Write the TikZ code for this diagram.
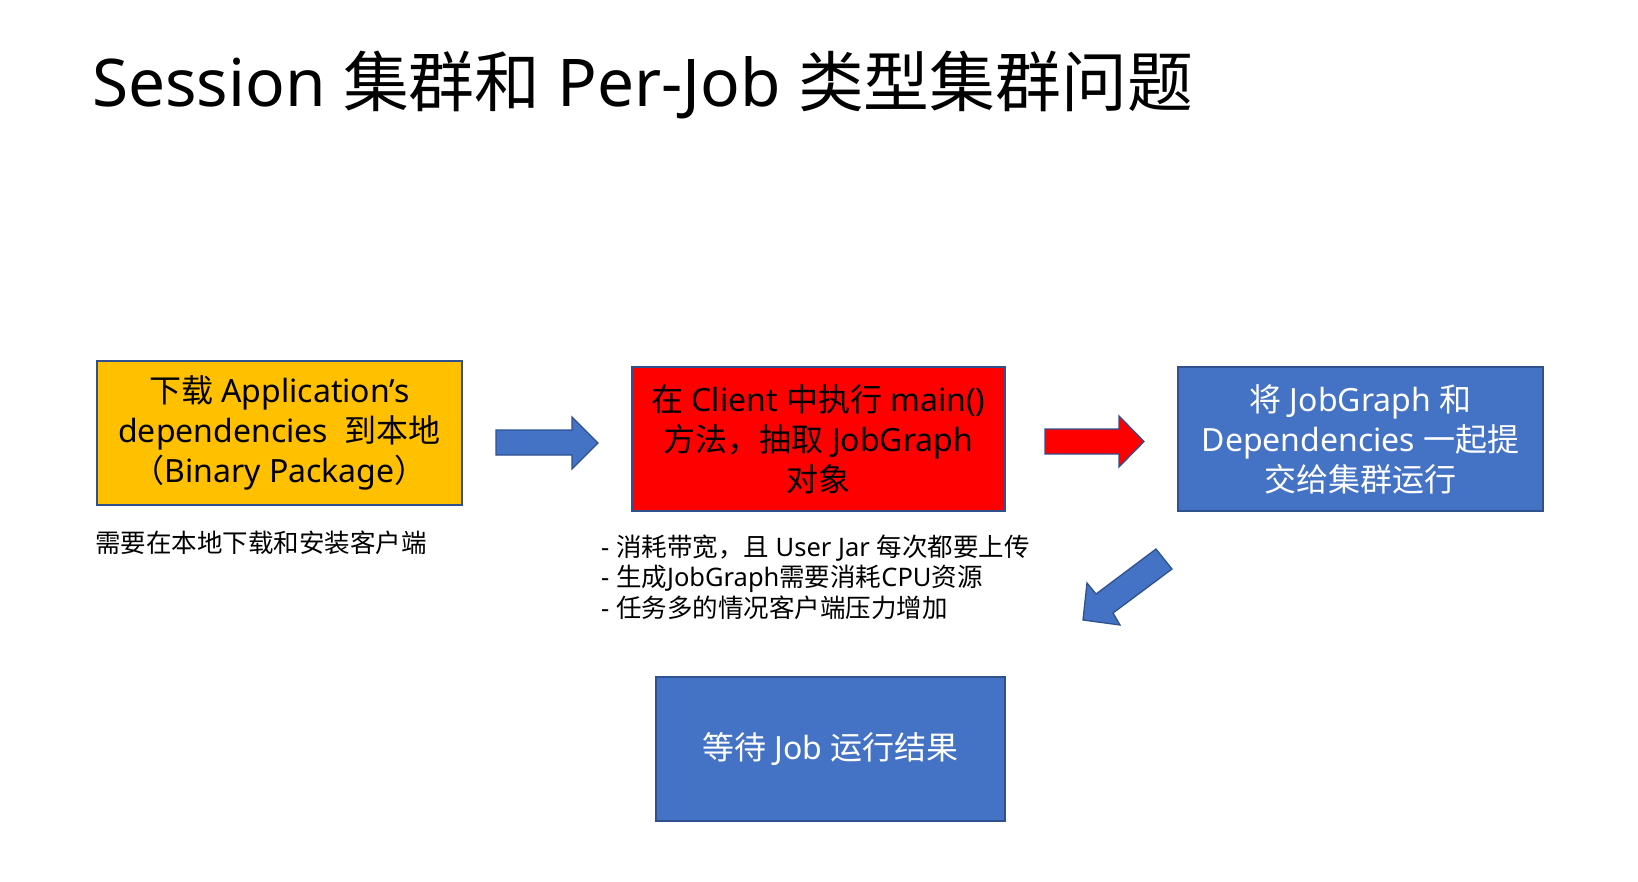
\documentclass[tikz,border=0pt]{standalone}
\usepackage{fontspec}
\setmainfont{Noto Sans}
\newfontfamily\cjk{Noto Sans CJK SC}
\newcommand\zh[1]{{\cjk #1}}
\definecolor{pptblue}{HTML}{4472C4}
\definecolor{pptline}{HTML}{2F528F}
\definecolor{pptgold}{HTML}{FFC000}
\definecolor{pptred}{HTML}{FF0000}
\begin{document}
\begin{tikzpicture}[x=1pt,y=-1pt,
  stepbox/.style={draw=pptline,line width=1.3pt,inner sep=0pt,align=center,
    font=\fontsize{32}{40}\selectfont},
  blockarrow/.style={draw=pptline,line width=1.3pt,line join=miter},
  note/.style={anchor=west,inner sep=0pt,align=left,font=\fontsize{25.5}{30.5}\selectfont}]
\useasboundingbox[fill=white] (0,0) rectangle (1638,882);

% title
\node[anchor=base west,inner sep=0pt,font=\fontsize{65.8}{72}\selectfont] (title) at (92,107)
  {Session \zh{集群和} Per-Job \zh{类型集群问题}};

% process boxes
\node[stepbox,fill=pptgold,minimum width=365pt,minimum height=144pt] (dl) at (279.5,433)
  {\zh{下载} Application’s\\dependencies~ \zh{到本地}\\\zh{（}Binary Package\zh{）}};
\node[stepbox,fill=pptred,minimum width=373pt,minimum height=144pt] (client) at (818.5,439)
  {\zh{在} Client \zh{中执行} main()\\\zh{方法，抽取} JobGraph\\\zh{对象}};
\node[stepbox,fill=pptblue,text=white,minimum width=365pt,minimum height=144pt] (submit) at (1360.5,439)
  {\zh{将} JobGraph \zh{和}\\Dependencies \zh{一起提}\\\zh{交给集群运行}};
\node[stepbox,fill=pptblue,text=white,minimum width=349pt,minimum height=144pt] (wait) at (830.5,749)
  {\zh{等待} Job \zh{运行结果}};

% notes under the boxes
\node[note] (dlnote) at (95,543) {\zh{需要在本地下载和安装客户端}};
\node[note] (clientnote) at (601,577)
  {- \zh{消耗带宽，且} User Jar \zh{每次都要上传}\\
   - \zh{生成}JobGraph\zh{需要消耗}CPU\zh{资源}\\
   - \zh{任务多的情况客户端压力增加}};

% block arrows between the steps
\fill[blockarrow,fill=pptblue] (496,430) -- (572,430) -- (572,417) -- (598,443)
  -- (572,469) -- (572,455) -- (496,455) -- cycle;
\fill[blockarrow,fill=pptred] (1045,429) -- (1119,429) -- (1119,416) -- (1144,441.5)
  -- (1119,467) -- (1119,454) -- (1045,454) -- cycle;
\fill[blockarrow,fill=pptblue] (1156,549) -- (1172,569) -- (1113,613) -- (1120,625)
  -- (1083,620) -- (1087,583) -- (1096,594) -- cycle;
\end{tikzpicture}
\end{document}
